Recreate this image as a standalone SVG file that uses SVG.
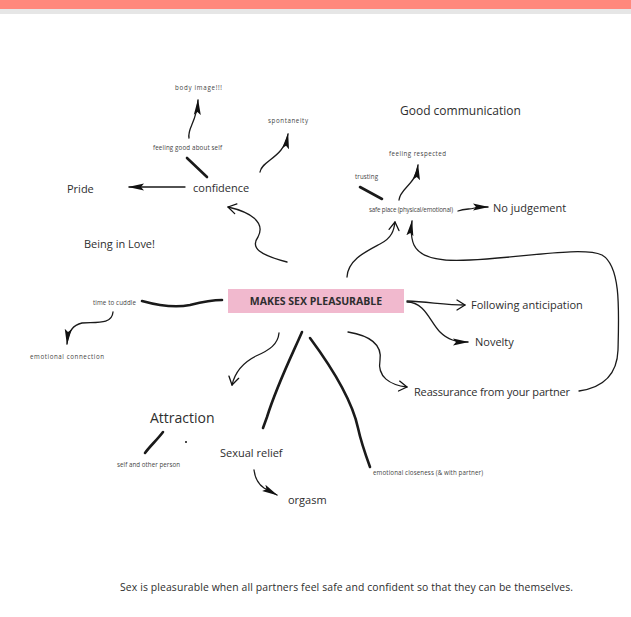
<svg xmlns="http://www.w3.org/2000/svg" width="631" height="617" viewBox="0 0 631 617">
  <defs>
    <style>
      text { font-family: "Open Sans", "Noto Sans", "Liberation Sans", sans-serif; fill: #2e2e2e; }
      .lg { font-size: 11px; }
      .xl { font-size: 12px; }
      .tiny { font-size: 6.2px; fill: #444; }
      .link { fill: none; stroke: #1a1a1a; stroke-width: 1.3; stroke-linecap: round; }
      .bold { fill: none; stroke: #1a1a1a; stroke-width: 2.6; stroke-linecap: round; }
      .hub { fill: #f1b9ce; }
    </style>
    <marker id="arrF" viewBox="0 0 16 10" refX="15" refY="5" markerWidth="16" markerHeight="10" markerUnits="userSpaceOnUse" orient="auto">
      <path d="M0,1.5 L16,5 L0,8.5 L3,5 Z" fill="#111"/>
    </marker>
    <marker id="arrO" viewBox="0 0 10 12" refX="9" refY="6" markerWidth="10" markerHeight="12" markerUnits="userSpaceOnUse" orient="auto">
      <path d="M1,1 L9,6 L1,11" fill="none" stroke="#111" stroke-width="1.3" stroke-linecap="round" stroke-linejoin="round"/>
    </marker>
  </defs>

  <!-- page header -->
  <rect x="0" y="0" width="631" height="9" fill="#ff887c"/>
  <rect x="0" y="9" width="631" height="5" fill="#e6e6e6"/>

  <!-- connectors -->
  <g id="connectors">
    <path class="link" d="M189,138 C187,128 197,122 198,100" marker-end="url(#arrF)"/>
    <path class="bold" d="M187,158 L207,177"/>
    <path class="link" d="M260,172 C262,160 284,158 288,134" marker-end="url(#arrF)"/>
    <path class="link" d="M185,187 L129,187" marker-end="url(#arrF)"/>
    <path class="link" d="M287,262 C260,255 250,248 258,237 C266,222 250,212 228,207" marker-end="url(#arrO)"/>
    <path class="link" d="M347,277 C348,260 365,252 380,244 C392,238 394,230 395,222" marker-end="url(#arrO)"/>
    <path class="bold" d="M360,187 L382,199"/>
    <path class="link" d="M399,200 C400,188 416,185 418,165" marker-end="url(#arrF)"/>
    <path class="link" d="M458,211 C466,208 472,210 477,207 L488,207" marker-end="url(#arrF)"/>
    <path class="link" d="M579,391 C600,388 617,378 618,350 C619,310 621,266 602,255 C582,246 520,258 470,260 C440,262 420,258 414,245 C410,236 411,228 412,221" marker-end="url(#arrF)"/>
    <path class="link" d="M407,301 C430,302 445,305 465,305" marker-end="url(#arrO)"/>
    <path class="link" d="M407,302 C425,302 430,322 440,332 C448,340 456,342 468,342" marker-end="url(#arrF)"/>
    <path class="link" d="M348,332 C372,336 382,346 380,360 C377,377 390,385 407,387" marker-end="url(#arrO)"/>
    <path class="bold" d="M142,301 C160,306 175,308 190,305 C202,302 212,300 222,300"/>
    <path class="link" d="M113,312 C112,325 96,322 82,323 C72,325 68,332 67,344" marker-end="url(#arrF)"/>
    <path class="link" d="M279,333 C278,344 270,350 256,356 C244,362 235,372 232,385" marker-end="url(#arrO)"/>
    <path class="bold" d="M302,332 C292,355 277,385 267,417 L263,428"/>
    <path class="bold" d="M310,338 C330,365 352,400 358,428 C361,442 366,456 370,467"/>
    <path class="bold" d="M163,432 C157,440 150,446 145,453"/>
    <circle cx="186" cy="442" r="1" fill="#111"/>
    <path class="link" d="M254,470 C255,478 258,484 264,488 L277,495" marker-end="url(#arrF)"/>
  </g>

  <!-- central node -->
  <g id="hub">
    <rect class="hub" x="228" y="289" width="176" height="24"/>
    <text x="316" y="304.5" text-anchor="middle" font-size="10.5" font-weight="bold" fill="#2a2a2a">MAKES SEX PLEASURABLE</text>
  </g>

  <g id="confidence"><text class="lg" x="193" y="192">confidence</text></g>
  <g id="pride"><text class="lg" x="67" y="193">Pride</text></g>
  <g id="being-in-love"><text class="lg" x="84" y="248">Being in Love!</text></g>
  <g id="feeling-good"><text class="tiny" x="153" y="150" textLength="69">feeling good about self</text></g>
  <g id="body-image"><text class="tiny" x="175" y="90" textLength="47">body image!!!</text></g>
  <g id="spontaneity"><text class="tiny" x="268" y="123" textLength="40">spontaneity</text></g>

  <g id="good-communication"><text class="xl" x="400" y="115">Good communication</text></g>
  <g id="feeling-respected"><text class="tiny" x="389" y="156" textLength="57">feeling respected</text></g>
  <g id="trusting"><text class="tiny" x="355" y="179" textLength="23">trusting</text></g>
  <g id="safe-place"><text class="tiny" x="369" y="212" textLength="84">safe place (physical/emotional)</text></g>
  <g id="no-judgement"><text class="lg" x="493" y="212" font-size="11.5">No judgement</text></g>

  <g id="time-to-cuddle"><text class="tiny" x="93" y="305" textLength="43">time to cuddle</text></g>
  <g id="emotional-connection"><text class="tiny" x="30" y="359" textLength="74">emotional connection</text></g>

  <g id="following-anticipation"><text class="lg" x="471" y="309">Following anticipation</text></g>
  <g id="novelty"><text class="lg" x="475" y="346">Novelty</text></g>
  <g id="reassurance"><text class="lg" x="414" y="396" textLength="156">Reassurance from your partner</text></g>

  <g id="attraction"><text x="150" y="423" font-size="14">Attraction</text></g>
  <g id="self-and-other"><text class="tiny" x="117" y="467" textLength="63">self and other person</text></g>
  <g id="sexual-relief"><text class="lg" x="220" y="457" font-size="11.5">Sexual relief</text></g>
  <g id="orgasm"><text class="lg" x="288" y="504" font-size="11.5">orgasm</text></g>
  <g id="emotional-closeness"><text class="tiny" x="373" y="475" textLength="110">emotional closeness (&amp; with partner)</text></g>

  <!-- caption -->
  <text x="120" y="591" font-size="10.4" textLength="453">Sex is pleasurable when all partners feel safe and confident so that they can be themselves.</text>
</svg>
